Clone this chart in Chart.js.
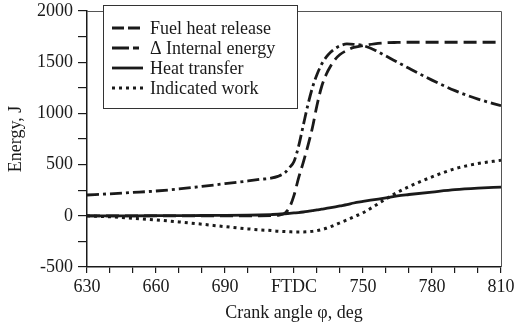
<!DOCTYPE html>
<html>
<head>
<meta charset="utf-8">
<script src="https://cdn.jsdelivr.net/npm/chart.js@4.4.1/dist/chart.umd.min.js"></script>
<style>
  html, body { margin: 0; padding: 0; background: #fff; }
  #wrap { width: 514px; height: 327px; }
</style>
</head>
<body>
<div id="wrap"><canvas id="chart" width="514" height="327"></canvas></div>
<script>
// crank angle, deg (720 = FTDC)
const angles = [630, 640, 650, 660, 670, 680, 690, 700, 705, 710, 713, 716, 718, 720, 722, 724, 726, 728, 730, 732, 734, 736, 738, 740, 743, 746, 750, 755, 760, 765, 770, 780, 790, 800, 810];

// energy, J
const fuelHeat = [0, 0, 0, 0, 0, 0, 0, 0, 0, 1, 5, 25, 80, 200, 370, 520, 680, 860, 1080, 1260, 1380, 1465, 1530, 1575, 1616, 1645, 1662, 1680, 1690, 1693, 1695, 1695, 1695, 1695, 1695];
const internalEnergy = [203, 215, 228, 242, 262, 287, 314, 340, 355, 368, 385, 420, 470, 530, 680, 880, 1080, 1250, 1380, 1480, 1550, 1600, 1635, 1660, 1678, 1675, 1662, 1620, 1560, 1500, 1440, 1325, 1222, 1140, 1075];
const heatTransfer = [0, 0, 0, 1, 2, 3, 4, 6, 8, 12, 15, 20, 24, 28, 32, 37, 43, 50, 57, 65, 72, 80, 88, 96, 108, 125, 140, 158, 176, 195, 208, 232, 255, 270, 281];
const indicatedWork = [0, -10, -24, -40, -60, -82, -106, -128, -137, -144, -150, -154, -156, -158, -158, -158, -156, -152, -145, -135, -122, -106, -88, -68, -40, -10, 30, 95, 165, 230, 285, 380, 460, 510, 542];

const seriesLabels = ['Fuel heat release', '\u0394 Internal energy', 'Heat transfer', 'Indicated work'];
const xTicks = [630, 660, 690, 720, 750, 780, 810];

const serif = '"Liberation Serif", "DejaVu Serif", "Times New Roman", serif';
const ink = '#1a1a1a';

function pts(values) {
  return angles.map((a, i) => ({ x: a, y: values[i] }));
}

const styles = [
  { dash: [13, 6], legendDash: [12, 4] },
  { dash: [12, 4, 3, 4], legendDash: [17, 4, 6, 10] },
  { dash: [], legendDash: [] },
  { dash: [3, 4], legendDash: [3, 4] }
];

const datasets = [fuelHeat, internalEnergy, heatTransfer, indicatedWork].map((vals, i) => ({
  label: seriesLabels[i],
  data: pts(vals),
  borderColor: ink,
  borderWidth: i === 3 ? 3 : 2.8,
  borderDash: styles[i].dash,
  legendDash: styles[i].legendDash,
  pointRadius: 0,
  fill: false,
  cubicInterpolationMode: 'monotone'
}));

// frame on the top and right, plus the boxed legend inside the plot
const framePlugin = {
  id: 'frame',
  beforeDatasetsDraw(chart) {
    const { ctx, chartArea: a } = chart;
    ctx.save();
    ctx.strokeStyle = '#555';
    ctx.lineWidth = 1;
    ctx.beginPath();
    ctx.moveTo(a.left, a.top + 0.5);
    ctx.lineTo(a.right + 0.5, a.top + 0.5);
    ctx.lineTo(a.right + 0.5, a.bottom);
    ctx.stroke();
    ctx.restore();
  },
  afterDatasetsDraw(chart) {
    const { ctx, chartArea: a } = chart;
    const bx = a.left + 16, by = a.top - 6, bw = 194, bh = 103;
    ctx.save();
    ctx.fillStyle = '#fff';
    ctx.fillRect(bx, by, bw, bh);
    ctx.strokeStyle = '#333';
    ctx.lineWidth = 1;
    ctx.strokeRect(bx + 0.5, by + 0.5, bw, bh);
    ctx.font = '18px ' + serif;
    ctx.textBaseline = 'middle';
    chart.data.datasets.forEach((ds, i) => {
      const y = by + 23 + i * 20;
      ctx.beginPath();
      ctx.setLineDash(ds.legendDash);
      ctx.lineWidth = ds.borderWidth;
      ctx.strokeStyle = ink;
      ctx.moveTo(bx + 9, y);
      ctx.lineTo(bx + 40, y);
      ctx.stroke();
      ctx.setLineDash([]);
      ctx.fillStyle = ink;
      ctx.fillText(ds.label, bx + 47, y + 1);
    });
    ctx.restore();
  }
};

new Chart(document.getElementById('chart'), {
  type: 'line',
  data: { datasets: datasets },
  plugins: [framePlugin],
  options: {
    responsive: false,
    animation: false,
    layout: { padding: { top: 11, right: 13, left: 0, bottom: 0 } },
    plugins: { legend: { display: false }, tooltip: { enabled: false } },
    scales: {
      x: {
        type: 'linear',
        min: 630,
        max: 810,
        afterFit(scale) {
          scale.height = 60;
          scale.paddingLeft = 0;
          scale.paddingRight = 0;
        },
        ticks: {
          stepSize: 10,
          autoSkip: false,
          maxRotation: 0,
          padding: 3,
          color: ink,
          font: { family: serif, size: 18 },
          callback: v => xTicks.includes(v) ? (v === 720 ? 'FTDC' : String(v)) : ''
        },
        grid: { drawOnChartArea: false, drawTicks: true, tickLength: 6, color: ink, lineWidth: 1.2 },
        border: { color: ink, width: 1.5 },
        title: {
          display: true,
          text: 'Crank angle \u03c6, deg',
          color: ink,
          font: { family: serif, size: 18 },
          padding: { top: 0, bottom: 3 }
        }
      },
      y: {
        min: -500,
        max: 2000,
        afterFit(scale) {
          scale.width = 87;
          scale.paddingTop = 0;
          scale.paddingBottom = 0;
        },
        ticks: {
          stepSize: 250,
          autoSkip: false,
          padding: 5,
          color: ink,
          font: { family: serif, size: 18 },
          callback: v => v % 500 === 0 ? String(v) : ''
        },
        grid: { drawOnChartArea: false, drawTicks: true, tickLength: 9, color: ink, lineWidth: 1.2 },
        border: { color: ink, width: 1.5 },
        title: {
          display: true,
          text: 'Energy, J',
          color: ink,
          font: { family: serif, size: 18 },
          padding: { top: 5, bottom: 0 }
        }
      }
    }
  }
});
</script>
</body>
</html>
